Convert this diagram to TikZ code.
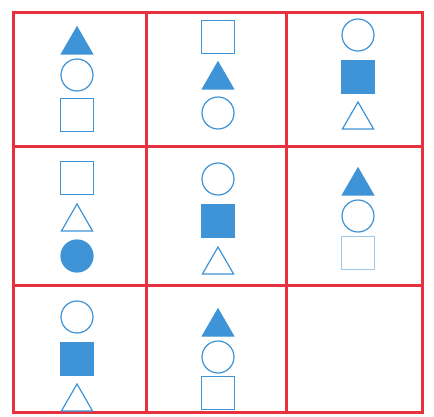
\documentclass[tikz,border=0pt]{standalone}
\usepackage{xcolor}
\definecolor{cGrid}{HTML}{E8313F}
\definecolor{cShape}{HTML}{3E94D6}
\usepackage{tikz}
\usetikzlibrary{shapes.geometric}
\tikzset{
  grid-line/.style={draw=cGrid,line width=3pt},
  sym/.style={draw=cShape,line width=1.2pt,inner sep=0pt,outer sep=0pt},
  sym-tri/.style={sym,regular polygon,regular polygon sides=3,minimum size=36pt},
  sym-circ/.style={sym,circle,minimum size=32pt},
  sym-sq/.style={sym,rectangle,minimum size=33pt},
  sym-fill/.style={fill=cShape},
  % the square in the middle-right cell is printed paler
  sym-pale/.style={draw=cShape!50},
}

\begin{document}
\begin{tikzpicture}[x=1pt,y=-1pt]
  \path[fill=white,use as bounding box] (0,0) rectangle (434,417);

  % grid
  \draw[grid-line] (13,13) rectangle (422,412);
  \draw[grid-line] (146,13) -- (146,412);
  \draw[grid-line] (286,13) -- (286,412);
  \draw[grid-line] (13,147) -- (422,147);
  \draw[grid-line] (13,285) -- (422,285);

  % row 1
  \node[sym-tri,sym-fill] (t11) at (77,45) {};
  \node[sym-circ] (o11) at (77,75) {};
  \node[sym-sq] (s11) at (77,115) {};

  \node[sym-sq] (s12) at (218,37) {};
  \node[sym-tri,sym-fill] (t12) at (218,80) {};
  \node[sym-circ] (o12) at (218,113) {};

  \node[sym-circ] (o13) at (358,35) {};
  \node[sym-sq,sym-fill] (s13) at (358,77) {};
  \node[sym-tri] (t13) at (358,120) {};

  % row 2
  \node[sym-sq] (s21) at (77,178) {};
  \node[sym-tri] (t21) at (77,222) {};
  \node[sym-circ,sym-fill] (o21) at (77,256) {};

  \node[sym-circ] (o22) at (218,179) {};
  \node[sym-sq,sym-fill] (s22) at (218,221) {};
  \node[sym-tri] (t22) at (218,265) {};

  \node[sym-tri,sym-fill] (t23) at (358,186) {};
  \node[sym-circ] (o23) at (358,216) {};
  \node[sym-sq,sym-pale] (s23) at (358,253) {};

  % row 3
  \node[sym-circ] (o31) at (77,317) {};
  \node[sym-sq,sym-fill] (s31) at (77,359) {};
  \node[sym-tri] (t31) at (77,402) {};

  \node[sym-tri,sym-fill] (t32) at (218,327) {};
  \node[sym-circ] (o32) at (218,357) {};
  \node[sym-sq] (s32) at (218,393) {};
\end{tikzpicture}
\end{document}
